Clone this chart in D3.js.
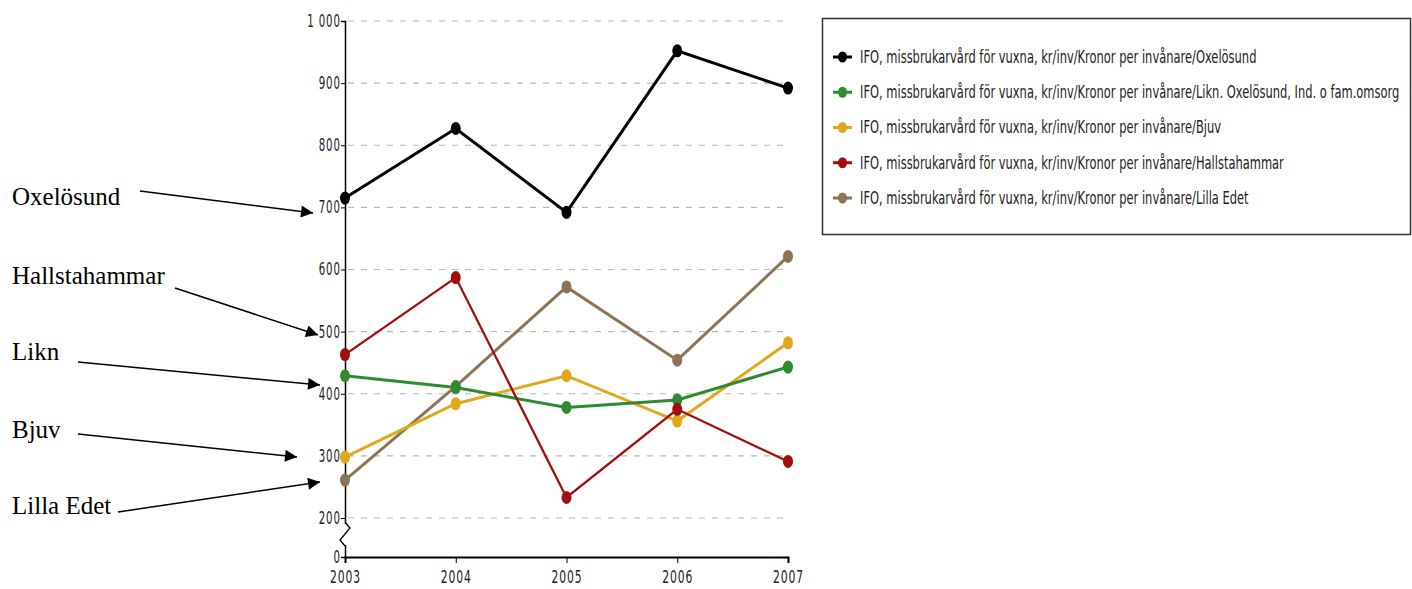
<!DOCTYPE html>
<html>
<head>
<meta charset="utf-8">
<script src="https://cdn.jsdelivr.net/npm/d3@7"></script>
<style>
  body { margin: 0; background: #fff; }
</style>
</head>
<body>
<svg id="chart" width="1412" height="589"></svg>
<script>
const years = [2003, 2004, 2005, 2006, 2007]
const yTicks = [0, 200, 300, 400, 500, 600, 700, 800, 900, 1000]

const seriesNames = [
  "IFO, missbrukarvård för vuxna, kr/inv/Kronor per invånare/Oxelösund",
  "IFO, missbrukarvård för vuxna, kr/inv/Kronor per invånare/Likn. Oxelösund, Ind. o fam.omsorg",
  "IFO, missbrukarvård för vuxna, kr/inv/Kronor per invånare/Bjuv",
  "IFO, missbrukarvård för vuxna, kr/inv/Kronor per invånare/Hallstahammar",
  "IFO, missbrukarvård för vuxna, kr/inv/Kronor per invånare/Lilla Edet"
]
const seriesColors = ["#000000", "#2e8b2e", "#e3a71c", "#a30d0d", "#8c7458"]

const oxelosund = [715, 827, 692, 952, 892]
const likn = [429, 410, 378, 390, 443]
const bjuv = [298, 384, 429, 356, 482]
const hallstahammar = [463, 587, 233, 375, 291]
const lillaEdet = [261, 412, 572, 454, 621]
const seriesValues = [oxelosund, likn, bjuv, hallstahammar, lillaEdet]

// labels drawn beside the chart with arrows pointing at the axis
const noteLabels = ["Oxelösund", "Hallstahammar", "Likn", "Bjuv", "Lilla Edet"]

const sansFont = "DejaVu Sans, sans-serif"
const serifFont = "Liberation Serif, serif"

const svg = d3.select("#chart")

const x = d3.scaleLinear()
            .domain([2003, 2007])
            .range([345, 788])

// broken axis: 0..200 squeezed into a short stretch
const y = d3.scaleLinear()
            .domain([0, 200, 1000])
            .range([557, 518, 21])

// grid lines
svg.append("g")
   .selectAll("line")
   .data(yTicks.filter(d => d > 0))
   .join("line")
   .attr("x1", 348)
   .attr("x2", 786)
   .attr("y1", d => y(d))
   .attr("y2", d => y(d))
   .attr("stroke", "#b8b8b8")
   .attr("stroke-width", 1.2)
   .attr("stroke-dasharray", "6,7")

const fmt = d => d >= 1000 ? d3.format(",")(d).replace(",", " ") : String(d)

const yAxis = svg.append("g")
   .attr("transform", "translate(345,0)")
   .call(d3.axisLeft(y).tickValues(yTicks).tickSize(4).tickPadding(3).tickFormat(fmt))
yAxis.select(".domain").attr("stroke", "#000").attr("stroke-width", 1.5)
yAxis.selectAll("text")
     .attr("font-family", sansFont)
     .attr("font-size", 17)
     .attr("letter-spacing", 1.5)
     .attr("transform", "scale(0.6,1)")
     .attr("fill", "#222")

// white gap + zigzag for the axis break
svg.append("line")
   .attr("x1", 345).attr("x2", 345)
   .attr("y1", y(200) + 6).attr("y2", y(0) - 12)
   .attr("stroke", "#fff").attr("stroke-width", 4)
svg.append("path")
   .attr("d", "M345," + (y(200) + 4) + " L350," + (y(200) + 10) + " L340," + (y(200) + 22) + " L345," + (y(200) + 28))
   .attr("fill", "none")
   .attr("stroke", "#000")
   .attr("stroke-width", 1.3)

const xAxis = svg.append("g")
   .attr("transform", "translate(0," + y(0) + ")")
   .call(d3.axisBottom(x).tickValues(years).tickSize(6).tickFormat(d3.format("d")))
xAxis.select(".domain").attr("stroke", "#000").attr("stroke-width", 2)
xAxis.selectAll("text")
     .attr("font-family", sansFont)
     .attr("font-size", 18)
     .attr("letter-spacing", 1.5)
     .attr("dy", "0.95em")
     .attr("transform", "scale(0.6,1)")
     .attr("fill", "#222")

const line = d3.line()
               .x((d, i) => x(years[i]))
               .y(d => y(d))

const drawOrder = [0, 4, 2, 1, 3]
drawOrder.forEach(s => {
  const g = svg.append("g")
  g.append("path")
   .datum(seriesValues[s])
   .attr("fill", "none")
   .attr("stroke", seriesColors[s])
   .attr("stroke-width", s === 3 ? 2.3 : 3)
   .attr("d", line)
  g.selectAll("ellipse")
   .data(seriesValues[s])
   .join("ellipse")
   .attr("cx", (d, i) => x(years[i]))
   .attr("cy", d => y(d))
   .attr("rx", 5)
   .attr("ry", 6.5)
   .attr("fill", seriesColors[s])
})

// legend
const legend = svg.append("g")
legend.append("rect")
      .attr("x", 822.5).attr("y", 18.5)
      .attr("width", 588).attr("height", 216)
      .attr("fill", "#fff")
      .attr("stroke", "#333")
      .attr("stroke-width", 1.5)

const legendY = d3.scalePoint()
                  .domain(d3.range(seriesNames.length))
                  .range([57, 198])

const rows = legend.selectAll("g.row")
                   .data(seriesNames)
                   .join("g")
                   .attr("class", "row")
                   .attr("transform", (d, i) => "translate(0," + legendY(i) + ")")
rows.append("line")
    .attr("x1", 833).attr("x2", 852)
    .attr("stroke", (d, i) => seriesColors[i])
    .attr("stroke-width", 3)
rows.append("ellipse")
    .attr("cx", 842.5).attr("rx", 4.5).attr("ry", 5.5)
    .attr("fill", (d, i) => seriesColors[i])
rows.append("text")
    .attr("transform", "translate(860,0) scale(0.675,1)")
    .attr("dy", "0.35em")
    .attr("font-family", sansFont)
    .attr("font-size", 17)
    .attr("fill", "#222")
    .text(d => d)

// side notes with arrows
const noteY = d3.scaleOrdinal().domain(noteLabels).range([205, 284, 360, 438, 514])
const arrowFrom = [[140, 191], [175, 288], [78, 362], [78, 434], [118, 512]]
const arrowTo = [[313, 213], [318, 335], [320, 385], [297, 457], [320, 482]]

svg.append("defs").append("marker")
   .attr("id", "arrow")
   .attr("viewBox", "0 0 10 10")
   .attr("refX", 10).attr("refY", 5)
   .attr("markerWidth", 16).attr("markerHeight", 12)
   .attr("markerUnits", "userSpaceOnUse")
   .attr("orient", "auto")
   .append("path")
   .attr("d", "M0,0 L10,5 L0,10 z")
   .attr("fill", "#000")

const notes = svg.append("g")
notes.selectAll("text")
     .data(noteLabels)
     .join("text")
     .attr("x", 12)
     .attr("y", d => noteY(d))
     .attr("font-family", serifFont)
     .attr("font-size", 25)
     .attr("fill", "#000")
     .text(d => d)
notes.selectAll("line")
     .data(noteLabels)
     .join("line")
     .attr("x1", (d, i) => arrowFrom[i][0])
     .attr("y1", (d, i) => arrowFrom[i][1])
     .attr("x2", (d, i) => arrowTo[i][0])
     .attr("y2", (d, i) => arrowTo[i][1])
     .attr("stroke", "#000")
     .attr("stroke-width", 1.5)
     .attr("marker-end", "url(#arrow)")
</script>
</body>
</html>
